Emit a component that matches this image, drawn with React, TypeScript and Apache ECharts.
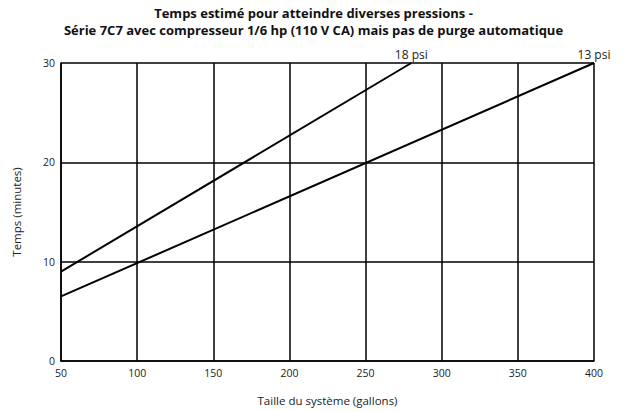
import React, { useEffect, useRef } from "react";
import * as echarts from "echarts";

const titleLines = [
  "Temps estimé pour atteindre diverses pressions -",
  "Série 7C7 avec compresseur 1/6 hp (110 V CA) mais pas de purge automatique",
];
const xName = "Taille du système (gallons)";
const yName = "Temps (minutes)";
const seriesNames = ["18 psi", "13 psi"];
const psi18X = [50, 280];
const psi18Y = [9, 30];
const psi13X = [50, 400];
const psi13Y = [6.5, 30];

const FONT = "'Open Sans', 'Noto Sans', sans-serif";

function build(xs: number[], ys: number[], name: string) {
  return xs.map((x, i) => {
    const last = i === xs.length - 1;
    return last
      ? {
          value: [x, ys[i]],
          label: {
            show: true,
            position: "top",
            distance: 2,
            formatter: name,
            color: "#222",
            fontSize: 12,
            fontFamily: FONT,
          },
        }
      : { value: [x, ys[i]] };
  });
}

const titleStyle = {
  fontFamily: FONT,
  fontWeight: "bold",
  fontSize: 13,
  color: "#111",
};

export default function App() {
  const ref = useRef<HTMLDivElement>(null);
  useEffect(() => {
    if (!ref.current) return;
    const chart = echarts.init(ref.current, undefined, { renderer: "svg" });
    chart.setOption({
      animation: false,
      backgroundColor: "#fff",
      title: [
        { text: titleLines[0], left: "center", top: 1, textStyle: titleStyle },
        { text: titleLines[1], left: "center", top: 18, textStyle: titleStyle },
      ],
      grid: { left: 61, right: 33, top: 63, bottom: 51 },
      xAxis: {
        type: "value",
        min: 50,
        max: 400,
        interval: 50,
        name: xName,
        nameLocation: "middle",
        nameGap: 33,
        nameTextStyle: { fontFamily: FONT, fontSize: 11.5, color: "#222" },
        axisLine: { show: true, lineStyle: { color: "#000", width: 1.5 } },
        axisTick: { show: false },
        axisLabel: { fontFamily: FONT, fontSize: 10.5, color: "#222", margin: 6 },
        splitLine: { show: true, lineStyle: { color: "#000", width: 1.5 } },
      },
      yAxis: {
        type: "value",
        min: 0,
        max: 30,
        interval: 10,
        name: yName,
        nameLocation: "middle",
        nameGap: 39,
        nameTextStyle: { fontFamily: FONT, fontSize: 11.5, color: "#222" },
        axisLine: { show: true, lineStyle: { color: "#000", width: 1.5 } },
        axisTick: { show: false },
        axisLabel: { fontFamily: FONT, fontSize: 10.5, color: "#222", margin: 6 },
        splitLine: { show: true, lineStyle: { color: "#000", width: 1.5 } },
      },
      series: [
        {
          name: seriesNames[0],
          type: "line",
          data: build(psi18X, psi18Y, seriesNames[0]),
          showSymbol: true,
          symbol: "circle",
          symbolSize: 0.1,
          itemStyle: { color: "#000" },
          lineStyle: { color: "#000", width: 2 },
        },
        {
          name: seriesNames[1],
          type: "line",
          data: build(psi13X, psi13Y, seriesNames[1]),
          showSymbol: true,
          symbol: "circle",
          symbolSize: 0.1,
          itemStyle: { color: "#000" },
          lineStyle: { color: "#000", width: 2 },
        },
      ],
    });
    return () => chart.dispose();
  }, []);
  return <div ref={ref} style={{ width: 627, height: 412, position: "absolute", left: 0, top: 0 }} />;
}
